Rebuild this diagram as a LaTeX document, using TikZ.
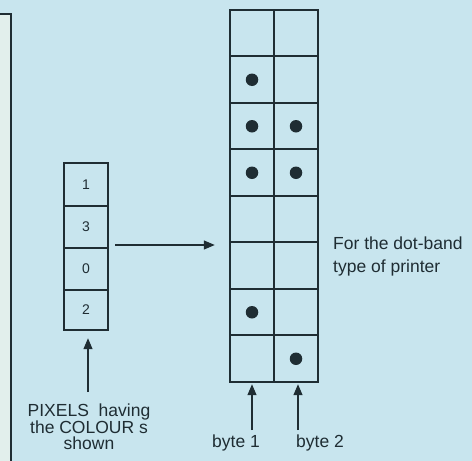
\documentclass[tikz,border=0pt]{standalone}
\usepackage{fontspec}
\setmainfont{Liberation Sans}
\usetikzlibrary{arrows.meta}
\definecolor{bg}{HTML}{C8E5EE}
\definecolor{ink}{HTML}{1F2D33}
\definecolor{pale}{HTML}{E2EFEC}
\begin{document}
\begin{tikzpicture}[x=1pt,y=-1pt,
  cellline/.style={draw=ink, line width=1.8pt, line cap=rect},
  pixcell/.style={minimum width=44pt, minimum height=42pt, inner sep=0pt, font=\fontsize{14}{14}\selectfont, text=ink},
  dotcell/.style={minimum width=44pt, minimum height=46.5pt, inner sep=0pt},
  pdot/.style={circle, fill=ink, minimum size=12.5pt, inner sep=0pt},
  arr/.style={draw=ink, line width=1.2pt, -{Triangle[length=11pt,width=9pt]}},
  lbl/.style={text=ink, font=\fontsize{17.5}{16.7}\selectfont, inner sep=0pt}
]
\useasboundingbox (0,0) rectangle (472,461);
\fill[bg] (0,0) rectangle (472,461);
\fill[pale] (0,14) rectangle (11,461);
\draw[ink, line width=1.8pt] (0,14) -- (11,14) -- (11,461);

% pixel column (cells named, grid drawn on whole pixels)
\draw[cellline] (64,163) rectangle (108,330);
\foreach \y in {206,248,290} \draw[cellline] (64,\y) -- (108,\y);
\node[pixcell] (p1) at (86,184.5) {1};
\node[pixcell] (p2) at (86,227) {3};
\node[pixcell] (p3) at (86,269) {0};
\node[pixcell] (p4) at (86,310) {2};

% dot grid
\draw[cellline] (230,10) rectangle (318,382);
\draw[cellline] (274,10) -- (274,382);
\foreach \y in {56,103,149,196,242,289,335} \draw[cellline] (230,\y) -- (318,\y);
\foreach \r in {1,...,8}{
  \foreach \c in {1,2}{
    \node[dotcell] (b\r-\c) at ({252+44*(\c-1)},{10+46.5*(\r-0.5)}) {};
  }
}
\node[pdot] (d21) at (b2-1) {};
\node[pdot] (d31) at (b3-1) {};
\node[pdot] (d32) at (b3-2) {};
\node[pdot] (d41) at (b4-1) {};
\node[pdot] (d42) at (b4-2) {};
\node[pdot] (d71) at (b7-1) {};
\node[pdot] (d82) at (b8-2) {};

% labels
\node[lbl, align=center] (pixlbl) at (89,427) {PIXELS\ \ having\\the COLOUR s\\shown};
\node[lbl] (byte1) at (236,443) {byte 1};
\node[lbl] (byte2) at (320,443) {byte 2};
\node[lbl, align=left, anchor=west, font=\fontsize{17.5}{23}\selectfont] (note) at (333,256) {For the dot-band\\type of printer};

% connectors
\coordinate (hs) at (115,245);
\path (hs -| b6-1.west) coordinate (he0);
\draw[arr] (hs) -- ([xshift=-15pt]he0);

\coordinate (pf) at (88,392);
\path ([yshift=-7pt]p4.south) coordinate (pt);
\draw[arr] (pf) -- (pf |- pt);

\coordinate (f1) at (252,430);
\coordinate (f2) at (298,430);
\path ([yshift=-2pt]b8-1.south) coordinate (t1);
\path ([yshift=-2pt]b8-2.south) coordinate (t2);
\draw[arr] (f1) -- (f1 |- t1);
\draw[arr] (f2) -- (f2 |- t2);
\end{tikzpicture}
\end{document}
